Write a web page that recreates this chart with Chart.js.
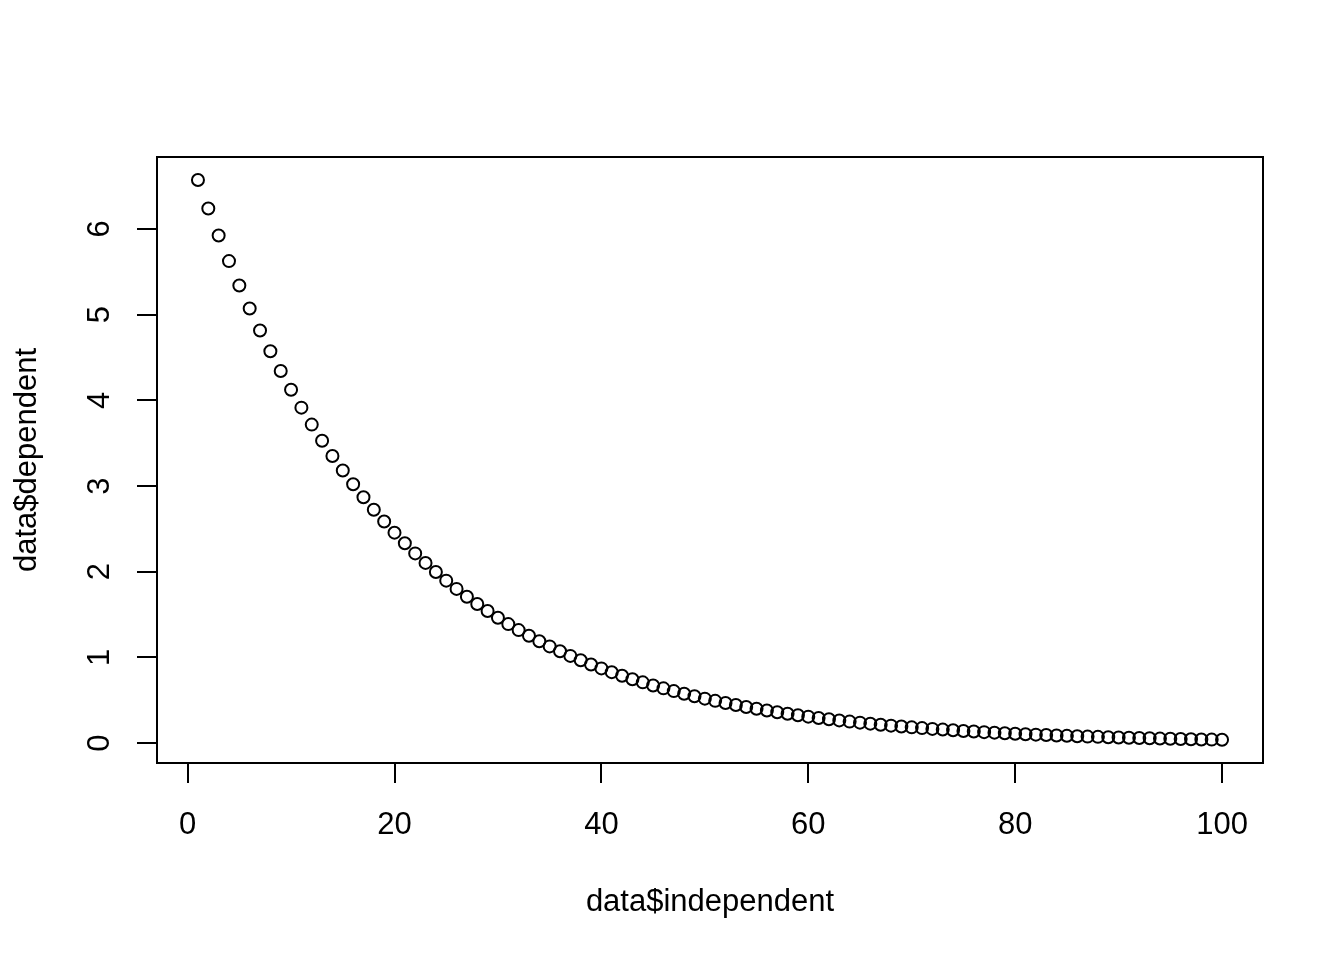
<!DOCTYPE html>
<html>
<head>
<meta charset="utf-8">
<script src="https://cdn.jsdelivr.net/npm/chart.js@4/dist/chart.umd.min.js"></script>
<style>
  html, body { margin: 0; padding: 0; background: #ffffff; }
  #wrap { width: 1344px; height: 960px; }
</style>
</head>
<body>
<div id="wrap"><canvas id="c" width="1344" height="960"></canvas></div>
<script>
const independent = [1,2,3,4,5,6,7,8,9,10,11,12,13,14,15,16,17,18,19,20,21,22,23,24,25,26,27,28,29,30,31,32,33,34,35,36,37,38,39,40,41,42,43,44,45,46,47,48,49,50,51,52,53,54,55,56,57,58,59,60,61,62,63,64,65,66,67,68,69,70,71,72,73,74,75,76,77,78,79,80,81,82,83,84,85,86,87,88,89,90,91,92,93,94,95,96,97,98,99,100];
const dependent = [6.571,6.239,5.924,5.625,5.341,5.072,4.816,4.573,4.342,4.123,
  3.915,3.717,3.529,3.351,3.182,3.021,2.869,2.724,2.587,2.456,
  2.332,2.214,2.103,1.997,1.896,1.800,1.709,1.623,1.541,1.463,
  1.389,1.319,1.253,1.189,1.129,1.072,1.018,0.967,0.918,0.872,
  0.828,0.786,0.746,0.709,0.673,0.639,0.607,0.576,0.547,0.519,
  0.493,0.468,0.445,0.422,0.401,0.381,0.361,0.343,0.326,0.309,
  0.294,0.279,0.265,0.251,0.239,0.227,0.215,0.204,0.194,0.184,
  0.175,0.166,0.158,0.150,0.142,0.135,0.128,0.122,0.116,0.110,
  0.104,0.099,0.094,0.089,0.085,0.081,0.076,0.073,0.069,0.066,
  0.062,0.059,0.056,0.053,0.051,0.048,0.046,0.043,0.041,0.039];
const xTicks = [0, 20, 40, 60, 80, 100];
const yTicks = [0, 1, 2, 3, 4, 5, 6];
const xTitle = 'data$independent';
const yTitle = 'data$dependent';

const FONT = "'Liberation Sans', Arial, sans-serif";

const boxPlugin = {
  id: 'box',
  afterDatasetsDraw(chart) {
    const {ctx, chartArea: a} = chart;
    ctx.save();
    ctx.strokeStyle = '#000';
    ctx.lineWidth = 2;
    ctx.strokeRect(a.left, a.top, a.right - a.left, a.bottom - a.top);
    ctx.restore();
  }
};

new Chart(document.getElementById('c'), {
  type: 'scatter',
  data: {
    datasets: [{
      data: independent.map((x, i) => ({x: x, y: dependent[i]})),
      pointStyle: 'circle',
      pointRadius: 6,
      pointHoverRadius: 6,
      pointBorderWidth: 2,
      borderColor: '#000',
      backgroundColor: 'rgba(0,0,0,0)',
      showLine: false
    }]
  },
  options: {
    responsive: false,
    animation: false,
    devicePixelRatio: 1,
    layout: { padding: { top: 157, right: 81, left: 0, bottom: 0 } },
    plugins: { legend: { display: false }, tooltip: { enabled: false } },
    scales: {
      x: {
        type: 'linear',
        min: -2.96,
        max: 103.96,
        afterBuildTicks(scale) { scale.ticks = xTicks.map(v => ({value: v})); },
        afterFit(scale) { scale.height = 197; },
        border: { display: false },
        grid: { drawOnChartArea: false, drawTicks: true, tickLength: 20, tickWidth: 2, tickColor: '#000', lineWidth: 2, color: '#000' },
        ticks: { color: '#000', padding: 24, maxRotation: 0, minRotation: 0, autoSkip: false,
                 font: { family: FONT, size: 31 } },
        title: { display: true, text: xTitle, color: '#000', font: { family: FONT, size: 31 },
                 padding: { top: 0, bottom: 39 } }
      },
      y: {
        type: 'linear',
        min: -0.232,
        max: 6.84,
        afterBuildTicks(scale) { scale.ticks = yTicks.map(v => ({value: v})); },
        afterFit(scale) { scale.width = 157; },
        border: { display: false },
        grid: { drawOnChartArea: false, drawTicks: true, tickLength: 20, tickWidth: 2, tickColor: '#000', lineWidth: 2, color: '#000' },
        ticks: { color: '#000', padding: 28, minRotation: 90, maxRotation: 90, crossAlign: 'center', autoSkip: false,
                 font: { family: FONT, size: 31 } },
        title: { display: true, text: yTitle, color: '#000', font: { family: FONT, size: 31 },
                 padding: { top: 9, bottom: 0 } }
      }
    }
  },
  plugins: [boxPlugin]
});
</script>
</body>
</html>
